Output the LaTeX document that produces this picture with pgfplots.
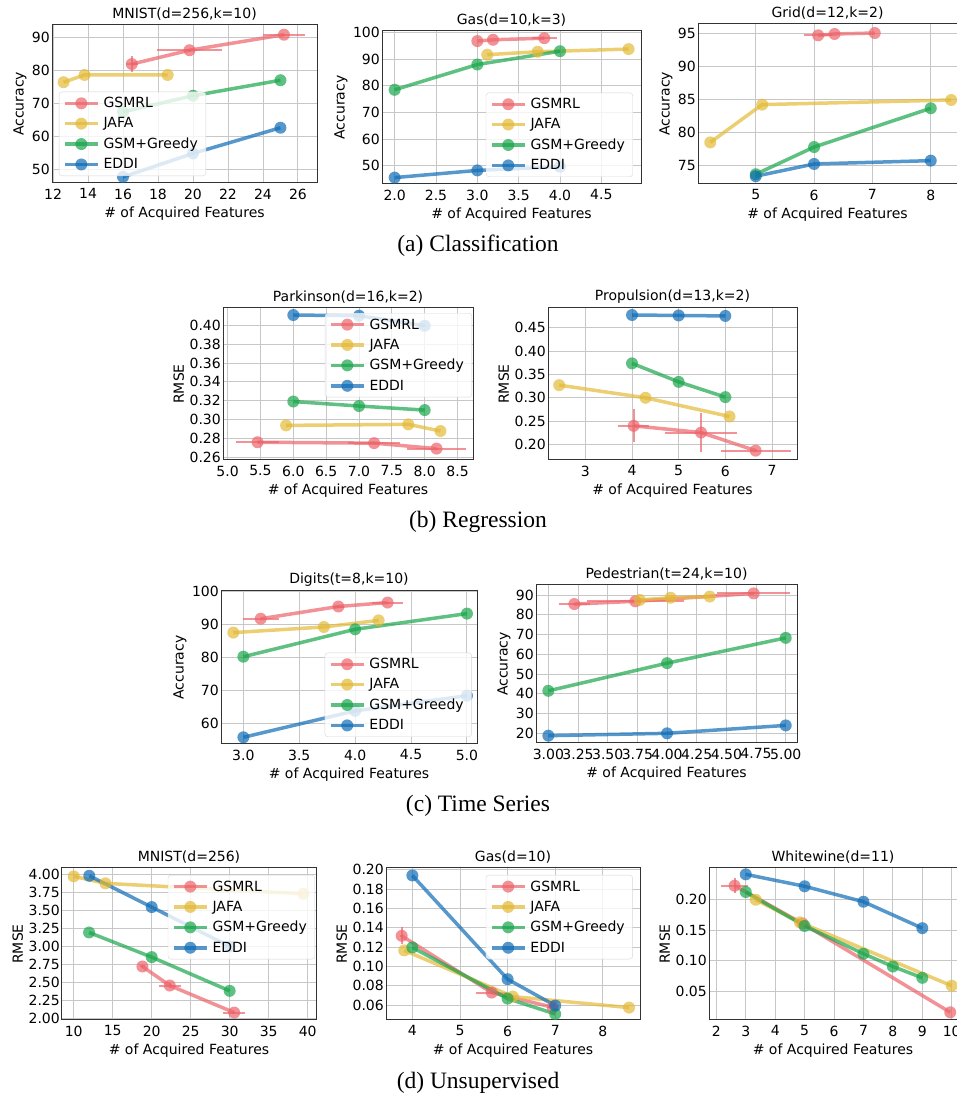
\documentclass[border=0pt]{standalone}
\usepackage{fontspec}
\setmainfont{DejaVu Sans}
\newfontfamily\capfont{Liberation Serif}
\usepackage{pgfplots}
\pgfplotsset{compat=1.18}

\definecolor{cR}{RGB}{236,100,105}
\definecolor{cY}{RGB}{228,185,55}
\definecolor{cG}{RGB}{25,165,75}
\definecolor{cB}{RGB}{15,108,182}

\newcommand\fs{\fontsize{14}{16}\selectfont}

\pgfplotsset{
  sub/.style={
    scale only axis, anchor=south west,
    grid=major, grid style={line width=0.9pt, draw=black!22},
    axis line style={line width=1pt, draw=black!80},
    major tick length=0pt,
    tick label style={font=\fs},
    yticklabel style={inner sep=2pt},
    xticklabel style={inner sep=2pt, yshift=-3.5pt},
    label style={font=\fs},
    xlabel style={yshift=-2pt},
    title style={font=\fs, inner sep=1pt, yshift=-3pt},
    xlabel={\# of Acquired Features},
    /pgf/number format/assume math mode=true,
    scaled ticks=false,
    legend image code/.code={\draw[mark repeat=2, mark phase=2, ##1] plot coordinates {(0pt,0pt) (16.5pt,0pt) (33pt,0pt)};},
    legend style={font=\fs, draw=black!20, fill=white, fill opacity=0.8, draw opacity=0.8, text opacity=1,
      rounded corners=3pt, inner xsep=4pt, inner ysep=3.5pt, row sep=4.5pt, cells={anchor=west},
      nodes={inner xsep=4pt}},
    legend cell align=left,
  },
  s/.style={#1, line width=3.5pt, opacity=0.7, mark=*, mark size=6pt, mark options={solid, draw opacity=0}},
  e/.style={s=#1, error bars/.cd, x dir=both, x explicit, y dir=both, y explicit, error mark=none,
    error bar style={line width=2pt, #1}},
  xd1/.style={xticklabel style={/pgf/number format/.cd, fixed, fixed zerofill, precision=1}},
  xd2/.style={xticklabel style={/pgf/number format/.cd, fixed, fixed zerofill, precision=2}},
  yd2/.style={yticklabel style={/pgf/number format/.cd, fixed, fixed zerofill, precision=2}},
}

\begin{document}
\begin{tikzpicture}
\useasboundingbox (0,0) rectangle (957pt,1099pt);

% ---------- (a) Classification ----------
\begin{axis}[sub, at={(52pt,916pt)}, width=265pt, height=158pt,
  title={MNIST(d=256,k=10)}, ylabel={Accuracy},
  xmin=11.94, xmax=27.09, ymin=45.95, ymax=93.85,
  xtick={12,14,...,26}, ytick={50,60,...,90},
  legend style={at={(0.026,0.044)}, anchor=south west}]
\addplot[e=cR] coordinates {(16.5,82) +- (0.35,2.3) (19.8,86.2) +- (1.85,0.5) (25.2,90.9) +- (1.2,0.3)};
\addplot[s=cY] coordinates {(12.6,76.5) (13.8,78.7) (18.55,78.7)};
\addplot[s=cG] coordinates {(16,67.5) (20,72.4) (25,77.1)};
\addplot[s=cB] coordinates {(16,47.8) (20,54.9) (25,62.7)};
\legend{GSMRL,JAFA,GSM+Greedy,EDDI}
\end{axis}

\begin{axis}[sub, xd1, at={(382pt,915pt)}, width=259pt, height=153pt,
  title={Gas(d=10,k=3)}, ylabel={Accuracy},
  xmin=1.847, xmax=4.98, ymin=43.1, ymax=100.6,
  xtick={2,2.5,3,3.5,4,4.5}, ytick={50,60,...,100},
  legend style={at={(0.969,0.046)}, anchor=south east}]
\addplot[e=cR] coordinates {(3.0,96.8) +- (0,0) (3.19,97.3) +- (0,0) (3.81,97.9) +- (0.15,0)};
\addplot[s=cY] coordinates {(3.12,91.7) (3.73,92.8) (4.83,93.8)};
\addplot[s=cG] coordinates {(2,78.5) (3,88.0) (4,93.0)};
\addplot[s=cB] coordinates {(2,45.5) (3,48.2) (4,49.6)};
\legend{GSMRL,JAFA,GSM+Greedy,EDDI}
\end{axis}

\begin{axis}[sub, at={(698pt,915pt)}, width=259pt, height=160pt,
  title={Grid(d=12,k=2)}, ylabel={Accuracy},
  xmin=4.01, xmax=8.45, ymin=72.23, ymax=96.36,
  xtick={5,6,7,8}, ytick={75,80,85,90,95}]
\addplot[e=cR] coordinates {(6.07,94.65) +- (0.24,0) (6.35,94.85) +- (0,0) (7.04,95.0) +- (0,0)};
\addplot[s=cY] coordinates {(4.22,78.5) (5.11,84.2) (8.35,84.9)};
\addplot[s=cG] coordinates {(5,73.7) (6,77.8) (8,83.65)};
\addplot[s=cB] coordinates {(5,73.4) (6,75.25) (8,75.75)};
\end{axis}

\node[font=\capfont\fontsize{23.5}{28}\selectfont] at (478pt,853pt) {(a) Classification};

% ---------- (b) Regression ----------
\begin{axis}[sub, xd1, yd2, at={(223pt,639pt)}, width=250pt, height=152pt,
  title={Parkinson(d=16,k=2)}, ylabel={RMSE},
  xmin=4.93, xmax=8.735, ymin=0.2568, ymax=0.4185,
  xtick={5,5.5,6,6.5,7,7.5,8,8.5}, ytick={0.26,0.28,0.30,0.32,0.34,0.36,0.38,0.40},
  legend style={at={(0.996,0.967)}, anchor=north east}]
\addplot[e=cR] coordinates {(5.456,0.2757) +- (0.33,0.001) (7.23,0.2747) +- (0.39,0.001) (8.18,0.2689) +- (0.45,0.001)};
\addplot[s=cY] coordinates {(5.89,0.2936) (7.75,0.2947) (8.24,0.2876)};
\addplot[s=cG] coordinates {(6,0.319) (7,0.3142) (8,0.3099)};
\addplot[s=cB] coordinates {(6,0.411) (7,0.4103) (8,0.3996)};
\legend{GSMRL,JAFA,GSM+Greedy,EDDI}
\end{axis}

\begin{axis}[sub, yd2, at={(548pt,639pt)}, width=249pt, height=152pt,
  title={Propulsion(d=13,k=2)}, ylabel={RMSE},
  xmin=2.2, xmax=7.536, ymin=0.167, ymax=0.492,
  xtick={3,4,5,6,7}, ytick={0.20,0.25,0.30,0.35,0.40,0.45}]
\addplot[e=cR] coordinates {(4.036,0.240) +- (0.33,0.035) (5.48,0.2257) +- (0.78,0.041) (6.65,0.187) +- (0.75,0.003)};
\addplot[s=cY] coordinates {(2.44,0.327) (4.29,0.300) (6.09,0.260)};
\addplot[s=cG] coordinates {(4,0.3736) (5,0.334) (6,0.3014)};
\addplot[s=cB] coordinates {(4,0.477) (5,0.476) (6,0.475)};
\end{axis}

\node[font=\capfont\fontsize{23.5}{28}\selectfont] at (478pt,577pt) {(b) Regression};

% ---------- (c) Time Series ----------
\begin{axis}[sub, xd1, at={(221pt,355pt)}, width=256pt, height=153pt,
  title={Digits(t=8,k=10)}, ylabel={Accuracy},
  xmin=2.80, xmax=5.09, ymin=53.77, ymax=100.1,
  xtick={3,3.5,4,4.5,5}, ytick={60,70,80,90,100},
  legend style={at={(0.98,0.046)}, anchor=south east}]
\addplot[e=cR] coordinates {(3.155,91.7) +- (0.16,0.3) (3.85,95.4) +- (0.05,0.5) (4.29,96.6) +- (0.14,0.3)};
\addplot[s=cY] coordinates {(2.91,87.5) (3.72,89.2) (4.21,91.2)};
\addplot[s=cG] coordinates {(3,80.2) (4,88.5) (5,93.25)};
\addplot[s=cB] coordinates {(3,55.8) (4,63.8) (5,68.4)};
\legend{GSMRL,JAFA,GSM+Greedy,EDDI}
\end{axis}

\begin{axis}[sub, xd2, at={(536pt,356pt)}, width=261pt, height=158pt,
  title={Pedestrian(t=24,k=10)}, ylabel={Accuracy},
  xmin=2.896, xmax=5.095, ymin=15.1, ymax=95.05,
  xtick={3,3.25,3.5,3.75,4,4.25,4.5,4.75,5}, ytick={20,30,...,90}]
\addplot[e=cR] coordinates {(3.219,85.4) +- (0.13,0.5) (3.733,86.8) +- (0.41,0.5) (4.73,90.8) +- (0.31,0.5)};
\addplot[s=cY] coordinates {(3.77,87.5) (4.03,88.6) (4.36,89.2)};
\addplot[s=cG] coordinates {(3,41.5) (4,55.5) (5,68.3)};
\addplot[s=cB] coordinates {(3,18.8) (4,20.0) (5,24.0)};
\end{axis}

\node[font=\capfont\fontsize{23.5}{28}\selectfont] at (478pt,293pt) {(c) Time Series};

% ---------- (d) Unsupervised ----------
\begin{axis}[sub, yd2, at={(62pt,79pt)}, width=254pt, height=152pt,
  title={MNIST(d=256)}, ylabel={RMSE},
  xmin=8.5, xmax=41.07, ymin=1.98, ymax=4.088,
  xtick={10,15,...,40}, ytick={2,2.25,2.5,2.75,3,3.25,3.5,3.75,4},
  legend style={at={(0.996,0.954)}, anchor=north east}]
\addplot[e=cR] coordinates {(18.81,2.722) +- (0.3,0.02) (22.32,2.458) +- (1.4,0.04) (30.58,2.083) +- (1.43,0.01)};
\addplot[s=cY] coordinates {(10,3.972) (14.07,3.875) (39.44,3.731)};
\addplot[s=cG] coordinates {(11.97,3.194) (20,2.852) (30,2.384)};
\addplot[s=cB] coordinates {(12,3.98) (20,3.546) (30,3.0)};
\legend{GSMRL,JAFA,GSM+Greedy,EDDI}
\end{axis}

\begin{axis}[sub, yd2, at={(386pt,79pt)}, width=254pt, height=152pt,
  title={Gas(d=10)}, ylabel={RMSE},
  xmin=3.447, xmax=8.78, ymin=0.0448, ymax=0.2017,
  xtick={4,5,6,7,8}, ytick={0.06,0.08,0.10,0.12,0.14,0.16,0.18,0.20},
  legend style={at={(0.972,0.954)}, anchor=north east}]
\addplot[e=cR] coordinates {(3.776,0.1317) +- (0.03,0.0086) (5.667,0.0731) +- (0.32,0.001) (6.95,0.0579) +- (0.1,0.001)};
\addplot[s=cY] coordinates {(3.83,0.1166) (6.11,0.069) (8.55,0.0576)};
\addplot[s=cG] coordinates {(4,0.1197) (6,0.0669) (7,0.051)};
\addplot[s=cB] coordinates {(4,0.194) (6,0.0869) (7,0.0597)};
\legend{GSMRL,JAFA,GSM+Greedy,EDDI}
\end{axis}

\begin{axis}[sub, yd2, at={(709pt,79pt)}, width=248pt, height=152pt,
  title={Whitewine(d=11)}, ylabel={RMSE},
  xmin=1.75, xmax=10.18, ymin=0.0029, ymax=0.252,
  xtick={2,3,...,10}, ytick={0.05,0.10,0.15,0.20}]
\addplot[e=cR] coordinates {(2.62,0.223) +- (0.45,0.012) (4.93,0.161) +- (0,0) (9.95,0.0155) +- (0,0)};
\addplot[s=cY] coordinates {(3.34,0.200) (4.84,0.163) (10.0,0.059)};
\addplot[s=cG] coordinates {(3,0.2126) (5,0.157) (7,0.1115) (8,0.0905) (9,0.072)};
\addplot[s=cB] coordinates {(3,0.2416) (5,0.222) (7,0.1967) (9,0.1534)};
\end{axis}

\node[font=\capfont\fontsize{23.5}{28}\selectfont] at (478pt,16pt) {(d) Unsupervised};
\end{tikzpicture}
\end{document}
